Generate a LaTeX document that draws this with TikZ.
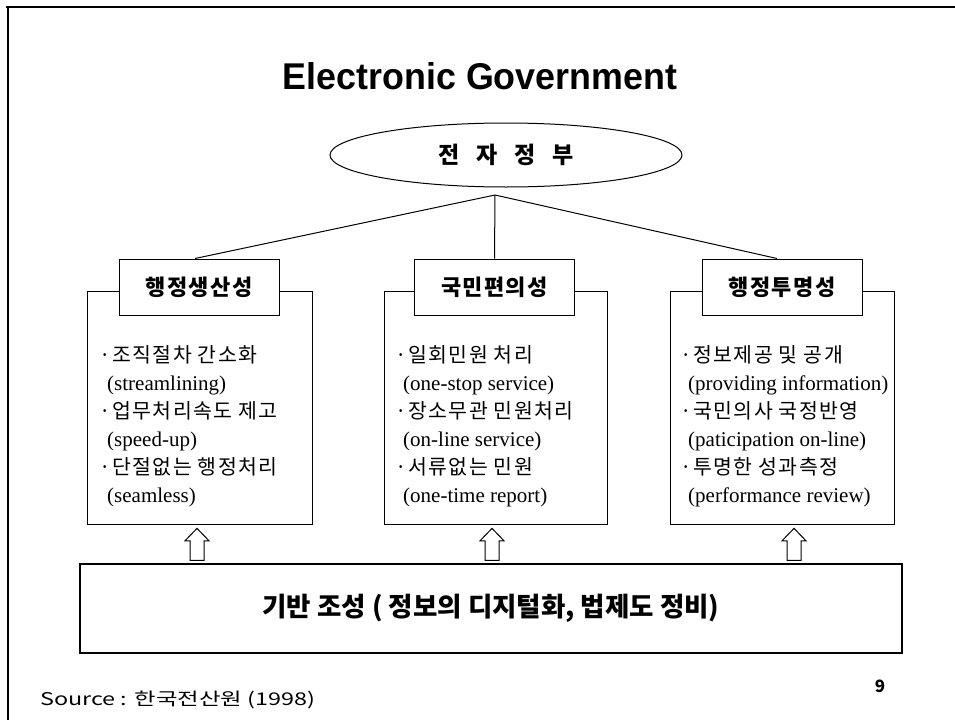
\documentclass[tikz,border=0pt]{standalone}
\usepackage{fontspec}
\setmainfont{Liberation Serif}
\newfontfamily\kr{Noto Sans CJK KR}
\newfontfamily\krs{Noto Sans CJK KR}[LetterSpace=7]
\newfontfamily\krb{Noto Sans CJK KR}[LetterSpace=6]
\newfontfamily\titlefont{Liberation Sans}
\usetikzlibrary{shapes.geometric,shapes.arrows}
\newcommand{\kl}[1]{{\krs\fontsize{20.5}{28}\selectfont ·#1}}
\newcommand{\el}[1]{{\fontsize{21}{28}\selectfont\hspace{8pt}#1}}
\tikzset{
  titlebox/.style={draw, fill=white, line width=1pt, minimum width=160pt, minimum height=56pt, inner sep=0pt, font=\krb\bfseries\fontsize{22}{26}\selectfont},
  outerbox/.style={draw, line width=1pt, inner sep=0pt, minimum height=233pt},
  content/.style={anchor=north west, inner sep=0pt, align=left, font=\fontsize{20.5}{28}\selectfont},
  uparrow/.style={single arrow, draw, line width=1pt, shape border rotate=90, inner sep=6.5pt, minimum height=32pt, single arrow head extend=5pt, single arrow tip angle=88},
  link/.style={line width=1pt}
}
\begin{document}
\begin{tikzpicture}[x=1pt,y=-1pt]
\useasboundingbox (0,0) rectangle (955,720);
% frame
\draw[line width=2.6pt] (6,7) -- (955,7);
\draw[line width=2.6pt] (8,6) -- (8,720);
% title
\node[inner sep=0pt, font=\titlefont\bfseries] (title) at (480,76.5) {\resizebox{394pt}{27pt}{Electronic Government}};
% ellipse
\node[ellipse, draw, line width=1pt, minimum width=352pt, minimum height=64pt, inner sep=0pt, font=\kr\bfseries\fontsize{23}{26}\selectfont] (eg) at (506,155) {전\hspace{17pt}자\hspace{17pt}정\hspace{17pt}부};
\coordinate (apex) at (495,195);
% outer boxes
\node[outerbox, minimum width=225pt] (o1) at (199.5,407.5) {};
\node[outerbox, minimum width=223pt] (o2) at (495.5,407.5) {};
\node[outerbox, minimum width=224pt] (o3) at (782,407.5) {};
% title boxes
\node[titlebox] (t1) at (199,287) {행정생산성};
\node[titlebox] (t2) at (494.5,287) {국민편의성};
\node[titlebox] (t3) at (782,287) {행정투명성};
\draw[link] (apex) -- ([xshift=-4pt]t1.north);
\draw[link] (apex) -- (t2.north);
\draw[link] (apex) -- ([xshift=-5pt]t3.north);
% contents
\node[content] (c1) at (99,345) {\kl{조직절차 간소화}\\ \el{(streamlining)}\\ \kl{업무처리속도 제고}\\ \el{(speed-up)}\\ \kl{단절없는 행정처리}\\ \el{(seamless)}};
\node[content] (c2) at (395,345) {\kl{일회민원 처리}\\ \el{(one-stop service)}\\ \kl{장소무관 민원처리}\\ \el{(on-line service)}\\ \kl{서류없는 민원}\\ \el{(one-time report)}};
\node[content] (c3) at (680,345) {\kl{정보제공 및 공개}\\ \el{(providing information)}\\ \kl{국민의사 국정반영}\\ \el{(paticipation on-line)}\\ \kl{투명한 성과측정}\\ \el{(performance review)}};
% base box
\node[draw, line width=1.4pt, minimum width=822pt, minimum height=89pt, inner sep=0pt, font=\kr\bfseries\fontsize{26.5}{30}\selectfont] (base) at (491,608.5) {기반 조성 ( 정보의 디지털화, 법제도 정비)};
% arrows
\node[uparrow] (a1) at (197,548) {};
\node[uparrow] (a2) at (492,548) {};
\node[uparrow] (a3) at (794,548) {};
% source and page
\node[anchor=west, inner sep=0pt, font=\kr\fontsize{20}{24}\selectfont] (src) at (40,700) {\resizebox{275pt}{14.5pt}{Source : 한국전산원 (1998)}};
\node[inner sep=0pt, font=\kr\bfseries\fontsize{17}{20}\selectfont] (pg) at (880,686) {9};
\end{tikzpicture}
\end{document}
